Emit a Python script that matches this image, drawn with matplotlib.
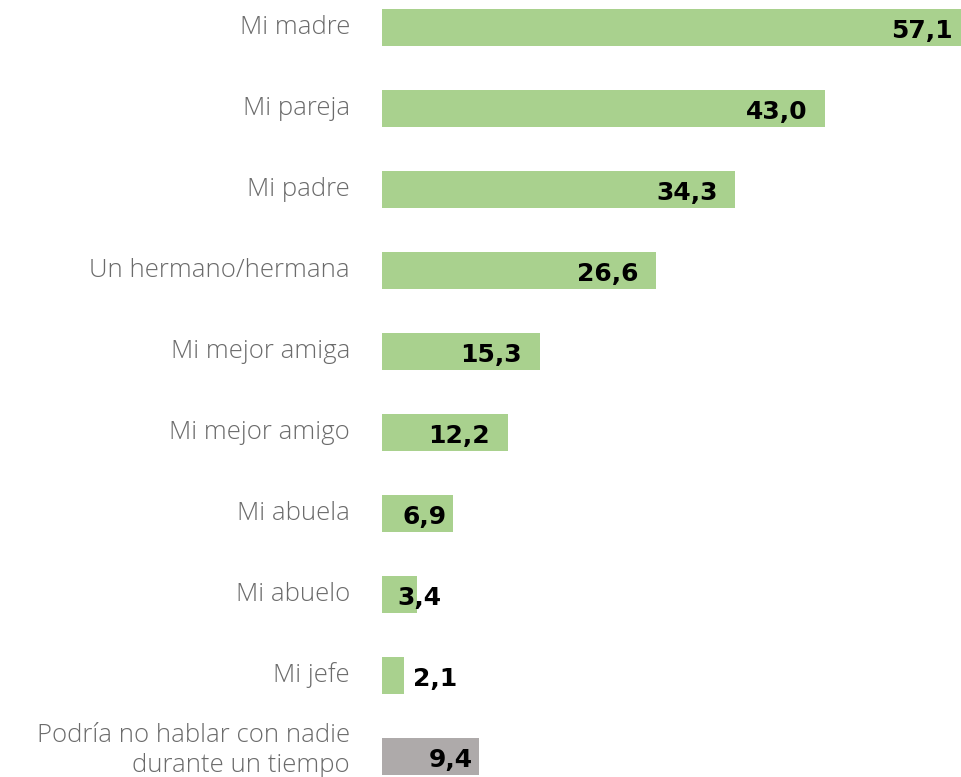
import matplotlib.pyplot as plt
import matplotlib.transforms as mtransforms

# Datos
categorias = ["Mi madre", "Mi pareja", "Mi padre", "Un hermano/hermana",
              "Mi mejor amiga", "Mi mejor amigo", "Mi abuela", "Mi abuelo",
              "Mi jefe", "Podría no hablar con nadie\ndurante un tiempo"]
valores = [57.1, 43.0, 34.3, 26.6, 15.3, 12.2, 6.9, 3.4, 2.1, 9.4]
etiquetas = ["57,1", "43,0", "34,3", "26,6", "15,3", "12,2", "6,9", "3,4", "2,1", "9,4"]

verde = "#A9D18E"
gris = "#AEAAAA"
colores = [verde] * 9 + [gris]

fig = plt.figure(figsize=(9.61, 7.77), dpi=100)
ax = fig.add_axes([0.3975, 0, 0.6025, 1])

pos = list(range(len(valores)))
ax.barh(pos, valores, height=0.457, color=colores)

ax.set_xlim(0, 56.2)
ax.set_ylim(9.253, -0.34)

ax.set_yticks(pos)
ax.set_yticklabels(categorias, fontsize=18.5, color="#6b6b6b",
                   family="Open Sans", fontweight="light", linespacing=1.3)
ax.tick_params(axis="y", length=0, pad=23)
ax.set_xticks([])
for s in ax.spines.values():
    s.set_visible(False)

# subir un poco las etiquetas de categoria
for i, lbl in enumerate(ax.get_yticklabels()):
    dy = 12 if i == len(categorias) - 1 else 3
    lbl.set_transform(lbl.get_transform() +
                      mtransforms.ScaledTranslation(0, dy / 100, fig.dpi_scale_trans))

# Etiquetas de valor
estilo = dict(fontsize=18, fontweight="bold", family="DejaVu Sans",
              color="black", va="center", clip_on=False)
for p, v, t in zip(pos, valores, etiquetas):
    if v < 3:
        ax.text(v + 0.9, p + 0.04, t, ha="left", **estilo)
    elif v < 10:
        x = v - 0.6
        if x - 4.3 < 1.5:
            ax.text(1.5, p + 0.04, t, ha="left", **estilo)
        else:
            ax.text(x, p + 0.04, t, ha="right", **estilo)
    else:
        x = v - 1.7 if v < 56 else 55.4
        ax.text(x, p + 0.04, t, ha="right", **estilo)

plt.savefig("out.png", dpi=100)
